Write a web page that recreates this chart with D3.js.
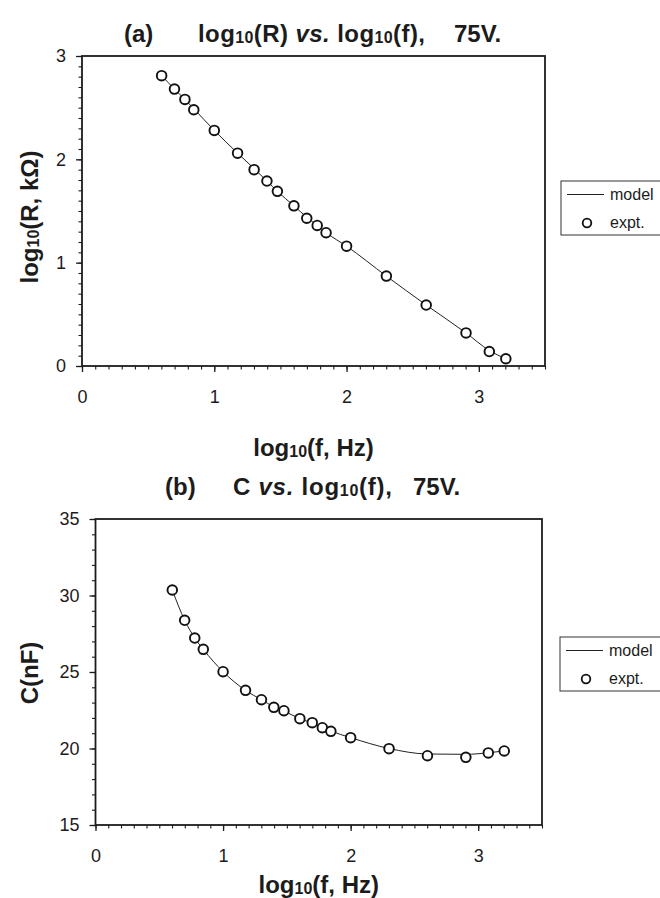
<!DOCTYPE html>
<html>
<head>
<meta charset="utf-8">
<script src="https://cdn.jsdelivr.net/npm/d3@7/dist/d3.min.js"></script>
<style>
  html, body { margin: 0; padding: 0; background: #fff; }
  svg { display: block; font-family: "Liberation Sans", Arial, Helvetica, sans-serif; }
</style>
</head>
<body>
<svg id="chart" width="660" height="898"></svg>
<script>
// ---------- data ----------
const logF = [0.602, 0.699, 0.778, 0.845, 1.000, 1.176, 1.301, 1.398, 1.477, 1.602,
              1.699, 1.778, 1.845, 2.000, 2.301, 2.602, 2.903, 3.079, 3.204];
const logR_expt  = [2.81, 2.68, 2.58, 2.48, 2.28, 2.06, 1.90, 1.79, 1.69, 1.55,
                    1.43, 1.36, 1.29, 1.16, 0.87, 0.59, 0.32, 0.14, 0.07];
const logR_model = [2.81, 2.68, 2.58, 2.49, 2.28, 2.06, 1.91, 1.79, 1.69, 1.55,
                    1.44, 1.36, 1.29, 1.16, 0.87, 0.59, 0.32, 0.15, 0.07];
const C_expt  = [30.36, 28.38, 27.22, 26.48, 25.02, 23.80, 23.19, 22.69, 22.47, 21.95,
                 21.69, 21.36, 21.12, 20.71, 19.99, 19.53, 19.42, 19.71, 19.84];
const C_model = [30.36, 28.38, 27.22, 26.48, 25.02, 23.80, 23.19, 22.72, 22.45, 21.95,
                 21.66, 21.38, 21.14, 20.71, 20.00, 19.64, 19.62, 19.72, 19.84];
const xTicks = [0, 1, 2, 3];
const yTicksA = [0, 1, 2, 3];
const yTicksB = [15, 20, 25, 30, 35];
const legendLabels = ["model", "expt."];

// ---------- drawing ----------
const svg = d3.select("#chart");
const ink = "#1c1c1c";

function panel(opts) {
  const x = d3.scaleLinear().domain([0, 3.5]).range([opts.left, opts.right]);
  const y = d3.scaleLinear().domain(opts.yDomain).range([opts.bottom, opts.top]);
  const g = svg.append("g");

  // minor ticks
  g.append("g").attr("transform", `translate(0,${opts.bottom})`)
    .call(d3.axisBottom(x).tickValues(d3.range(0, 36).map(i => i / 10)).tickSize(3.5).tickFormat(""))
    .call(a => a.select(".domain").remove())
    .call(a => a.selectAll("line").attr("stroke", ink).attr("stroke-width", 1.1));
  g.append("g").attr("transform", `translate(${opts.left},0)`)
    .call(d3.axisLeft(y).tickValues(opts.yMinor).tickSize(3.5).tickFormat(""))
    .call(a => a.select(".domain").remove())
    .call(a => a.selectAll("line").attr("stroke", ink).attr("stroke-width", 1.1));

  // major ticks + labels
  g.append("g").attr("transform", `translate(0,${opts.bottom})`)
    .call(d3.axisBottom(x).tickValues(xTicks).tickSize(6).tickPadding(18).tickFormat(d3.format("d")))
    .call(a => a.select(".domain").remove())
    .call(a => a.selectAll("line").attr("stroke", ink).attr("stroke-width", 1.3))
    .call(a => a.selectAll("text").attr("fill", ink).attr("font-size", 18)
      .attr("font-family", "Liberation Sans, Arial, sans-serif"));
  g.append("g").attr("transform", `translate(${opts.left},0)`)
    .call(d3.axisLeft(y).tickValues(opts.yTicks).tickSize(6).tickPadding(10).tickFormat(d3.format("d")))
    .call(a => a.select(".domain").remove())
    .call(a => a.selectAll("line").attr("stroke", ink).attr("stroke-width", 1.3))
    .call(a => a.selectAll("text").attr("fill", ink).attr("font-size", 18)
      .attr("font-family", "Liberation Sans, Arial, sans-serif"));

  // frame
  g.append("rect")
    .attr("x", opts.left).attr("y", opts.top)
    .attr("width", opts.right - opts.left).attr("height", opts.bottom - opts.top)
    .attr("fill", "none").attr("stroke", ink).attr("stroke-width", 1.8);

  // model line
  const line = d3.line().x((d, i) => x(logF[i])).y(d => y(d)).curve(d3.curveMonotoneX);
  g.append("path").datum(opts.model).attr("d", line)
    .attr("fill", "none").attr("stroke", "#222").attr("stroke-width", 1);

  // points
  g.selectAll("circle.pt").data(opts.expt).join("circle")
    .attr("class", "pt")
    .attr("cx", (d, i) => x(logF[i])).attr("cy", d => y(d)).attr("r", 4.8)
    .attr("fill", "#fff").attr("stroke", "#111").attr("stroke-width", 1.9);

  // title
  const t = g.append("g").attr("font-weight", "bold").attr("fill", ink).attr("font-size", 24);
  t.append("text").attr("x", opts.tagX).attr("y", opts.titleY).attr("fill", ink).text(opts.tag);
  const mt = t.append("text").attr("x", opts.titleX).attr("y", opts.titleY)
    .attr("fill", ink).attr("textLength", opts.titleLen).attr("lengthAdjust", "spacing")
    .style("white-space", "pre");
  opts.titleParts.forEach(p => {
    const ts = mt.append("tspan").text(p.t);
    if (p.sub) ts.attr("font-size", 16).attr("dy", 1);
    if (p.up) ts.attr("dy", -1);
    if (p.it) ts.attr("font-style", "italic");
  });
  t.append("text").attr("x", opts.voltX).attr("y", opts.titleY).attr("fill", ink).text("75V.");

  // x axis title
  const xt = g.append("text").attr("x", (opts.left + opts.right) / 2).attr("y", opts.xTitleY)
    .attr("text-anchor", "middle").attr("font-weight", "bold").attr("font-size", 24).attr("fill", ink);
  xt.append("tspan").text("log");
  xt.append("tspan").text("10").attr("font-size", 16).attr("dy", 1);
  xt.append("tspan").text("(f, Hz)").attr("dy", -1);

  // y axis title
  const yt = g.append("text")
    .attr("transform", `translate(${opts.yTitleX},${opts.yTitleY}) rotate(-90)`)
    .attr("text-anchor", "middle").attr("font-weight", "bold").attr("font-size", 24).attr("fill", ink);
  opts.yTitleParts.forEach(p => {
    const ts = yt.append("tspan").text(p.t);
    if (p.sub) ts.attr("font-size", 16).attr("dy", 1);
    if (p.up) ts.attr("dy", -1);
  });

  // legend
  const L = g.append("g").attr("transform", `translate(${opts.legX},${opts.legY})`);
  L.append("rect").attr("x", 0).attr("y", 0).attr("width", 120).attr("height", 54)
    .attr("fill", "#fff").attr("stroke", "#333").attr("stroke-width", 1);
  L.append("line").attr("x1", 6).attr("x2", 43).attr("y1", 13.5).attr("y2", 13.5)
    .attr("stroke", "#222").attr("stroke-width", 1);
  L.append("circle").attr("cx", 26).attr("cy", 42).attr("r", 4.3)
    .attr("fill", "#fff").attr("stroke", "#111").attr("stroke-width", 1.8);
  L.selectAll("text.lg").data(legendLabels).join("text").attr("class", "lg")
    .attr("x", 49).attr("y", (d, i) => i === 0 ? 19 : 47)
    .attr("font-size", 16).attr("fill", ink).text(d => d);
}

panel({
  left: 82, right: 545, top: 56, bottom: 366,
  yDomain: [0, 3], yTicks: yTicksA, yMinor: d3.range(0, 31).map(i => i / 10),
  model: logR_model, expt: logR_expt,
  tag: "(a)", tagX: 124, titleX: 198, titleY: 42, titleLen: 227, voltX: 454,
  titleParts: [{t: "log"}, {t: "10", sub: true}, {t: "(R) ", up: true}, {t: "vs.", it: true},
               {t: " log"}, {t: "10", sub: true}, {t: "(f),", up: true}],
  xTitleY: 456,
  yTitleX: 38, yTitleY: 217,
  yTitleParts: [{t: "log"}, {t: "10", sub: true}, {t: "(R, k\u03A9)", up: true}],
  legX: 561, legY: 181
});

panel({
  left: 95.5, right: 542, top: 519, bottom: 825,
  yDomain: [15, 35], yTicks: yTicksB, yMinor: d3.range(15, 36),
  model: C_model, expt: C_expt,
  tag: "(b)", tagX: 165, titleX: 233, titleY: 495, titleLen: 159, voltX: 413,
  titleParts: [{t: "C "}, {t: "vs.", it: true}, {t: " log"}, {t: "10", sub: true}, {t: "(f),", up: true}],
  xTitleY: 893,
  yTitleX: 38, yTitleY: 673,
  yTitleParts: [{t: "C(nF)"}],
  legX: 560, legY: 637
});
</script>
</body>
</html>
